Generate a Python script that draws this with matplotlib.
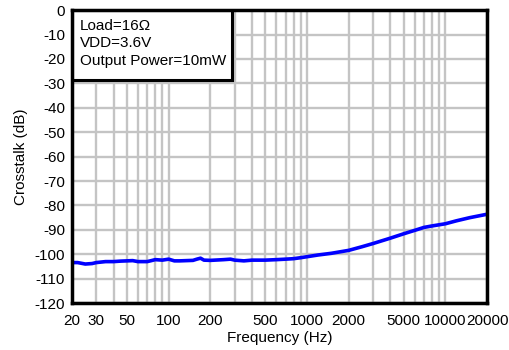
import matplotlib
matplotlib.use("Agg")
import matplotlib.pyplot as plt
from matplotlib.ticker import FixedLocator, NullFormatter, LogLocator
from matplotlib.patches import Rectangle

plt.rcParams['font.family'] = ['Liberation Sans', 'DejaVu Sans']
plt.rcParams['axes.unicode_minus'] = False

freq = [20, 22, 25, 28, 30, 35, 40, 45, 50, 55, 60, 70, 75, 80, 90, 100, 110, 120,
        150, 160, 170, 180, 200, 250, 280, 300, 350, 400, 500, 600, 700, 800, 900,
        1000, 1200, 1500, 2000, 2500, 3000, 4000, 5000, 6000, 7000, 8000, 10000,
        12000, 15000, 20000]
crosstalk = [-103.4, -103.4, -104.0, -103.8, -103.4, -103.0, -103.0, -102.8, -102.7,
             -102.6, -103.0, -103.0, -102.6, -102.2, -102.4, -102.0, -102.7, -102.7,
             -102.5, -102.0, -101.6, -102.4, -102.5, -102.2, -102.0, -102.4, -102.7,
             -102.4, -102.4, -102.2, -102.0, -101.8, -101.4, -101.0, -100.3, -99.6,
             -98.4, -96.9, -95.6, -93.4, -91.6, -90.2, -89.0, -88.4, -87.5, -86.3,
             -85.0, -83.6]

xticks = [20, 30, 50, 100, 200, 500, 1000, 2000, 5000, 10000, 20000]
yticks = list(range(-120, 1, 10))

fig = plt.figure(figsize=(5.1, 3.5), dpi=100)
ax = fig.add_axes([0.141, 0.134, 0.814, 0.837])

ax.plot(freq, crosstalk, color='#0000ff', lw=2.6, zorder=3)
ax.set_xscale('log')
ax.set_xlim(20, 20000)
ax.set_ylim(-120, 0)
ax.xaxis.set_major_locator(FixedLocator(xticks))
ax.xaxis.set_minor_locator(LogLocator(base=10, subs=range(1, 10)))
ax.xaxis.set_minor_formatter(NullFormatter())
ax.set_xticklabels([str(t) for t in xticks])
ax.set_yticks(yticks)
ax.grid(True, which='both', axis='x', color='#c4c4c4', lw=1.7)
ax.grid(True, which='major', axis='y', color='#c4c4c4', lw=1.7)
ax.tick_params(which='both', length=0, labelsize=11)
ax.tick_params(axis='x', pad=8)
ax.tick_params(axis='y', pad=5)
for s in ax.spines.values():
    s.set_linewidth(2.5)
    s.set_color('black')
    s.set_zorder(6)
ax.set_xlabel('Frequency (Hz)', fontsize=11, labelpad=2)
ax.set_ylabel('Crosstalk (dB)', fontsize=11, labelpad=5)

ax.add_patch(Rectangle((0, 1 - 0.239), 0.386, 0.239, transform=ax.transAxes,
                       fc='white', ec='black', lw=2.2, zorder=5))
ax.text(0.019, 0.97, 'Load=16\u03a9\nVDD=3.6V\nOutput Power=10mW',
        transform=ax.transAxes, va='top', ha='left', fontsize=11,
        linespacing=1.3, zorder=7)

fig.savefig('out.png', dpi=100)
